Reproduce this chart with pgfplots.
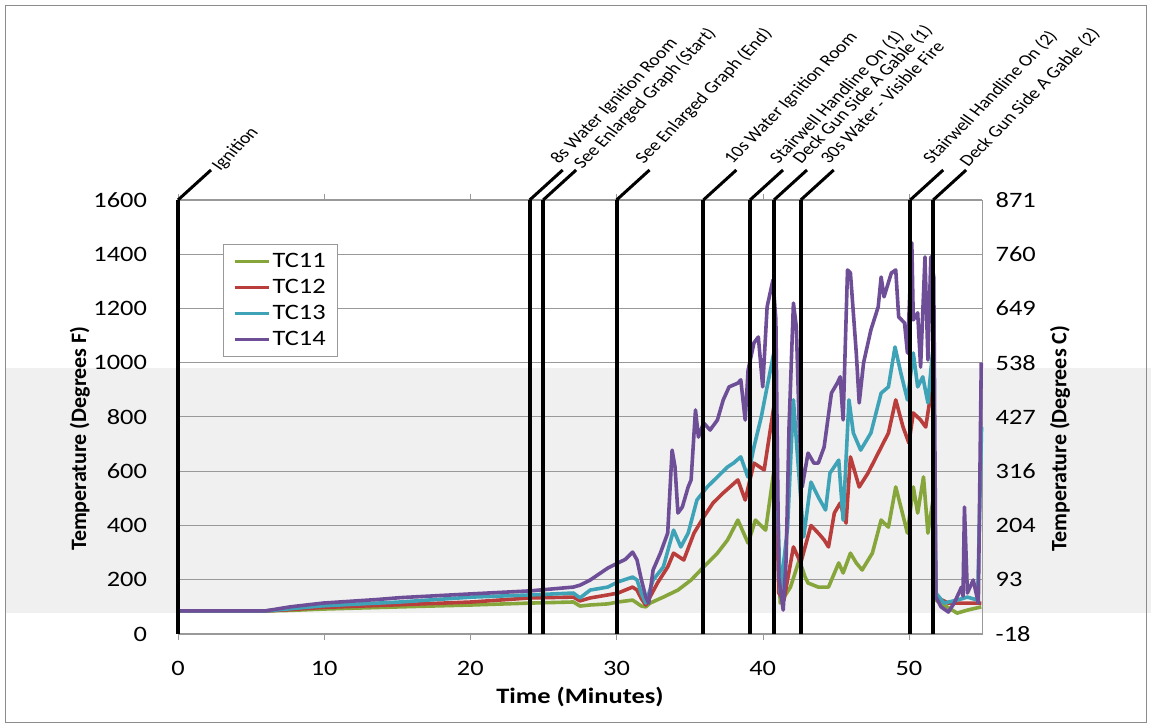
\documentclass[border=0pt]{standalone}
\usepackage{fontspec}
\setmainfont{Carlito}[FakeStretch=1.2]
\newfontfamily\plainfont{Carlito}
\usepackage{pgfplots}
\pgfplotsset{compat=1.18}
\definecolor{cA}{HTML}{86A53A}
\definecolor{cB}{HTML}{B83D3B}
\definecolor{cC}{HTML}{3FA3B8}
\definecolor{cD}{HTML}{6E4F97}
\begin{document}
\begin{tikzpicture}
\useasboundingbox (-89pt,-46.5pt) rectangle (486.5pt,317pt);
\fill[black!6] (-86.5pt,10.5pt) rectangle (486.5pt,133pt);
\draw[black!45] (-86.5pt,-44pt) rectangle (484pt,314.5pt);
\begin{axis}[
  scale only axis, width=402pt, height=217pt,
  xmin=0, xmax=55, ymin=0, ymax=1600,
  xtick={0,10,...,50}, ytick={0,200,...,1600},
  ymajorgrids, grid style={black!40, line width=0.5pt},
  axis line style={black!40},
  x tick style={black!40}, tick align=outside, major tick length=3pt,
  ytick style={draw=none},
  clip=false,
  tick label style={font=\fontsize{11}{13}\selectfont},
  /pgf/number format/assume math mode=true,
  /pgf/number format/1000 sep={},
  xticklabel style={yshift=-7pt},
  yticklabel style={xshift=-9pt},
  xlabel={Time (Minutes)},
  xlabel style={at={(axis description cs:0.5,-0.145)}, anchor=center, font=\fontsize{11}{13}\selectfont\bfseries},
  ylabel={Temperature (Degrees F)},
  ylabel style={at={(axis description cs:-0.122,0.45)}, anchor=center, font=\plainfont\fontsize{11}{13}\selectfont\bfseries},
  legend style={at={(axis description cs:0.056,0.899)}, anchor=north west, draw=black!40, fill=white,
    font=\fontsize{11}{13}\selectfont, inner xsep=5pt, inner ysep=2pt, row sep=0pt,
    nodes={text height=8.5pt, text depth=2.5pt, inner sep=1pt}},
  legend cell align=left,
  legend image post style={line width=1.5pt},
  every axis plot/.append style={line width=1.8pt, line join=round},
]
\addplot[cA] coordinates {
(0,85)(5.96,85)(7.67,87)(9.93,92)(15.2,100)(20.1,107)(24.1,114)(27.05,118)(27.5,103)(28.2,107)(29.4,111)(30.1,118)(31.1,125)(31.7,103)(32.0,100)(32.3,114)(33.2,136)(34.2,162)(35.1,199)(35.96,247)(36.9,298)(37.6,347)(38.3,420)(39.0,335)(39.5,420)(40.2,383)(40.8,616)(41.2,114)(41.9,173)(42.5,273)(42.9,210)(43.1,188)(43.8,173)(44.5,173)(45.2,262)(45.5,225)(46.0,298)(46.4,262)(46.8,236)(47.5,298)(48.1,420)(48.6,394)(49.1,542)(49.45,468)(49.9,372)(50.3,542)(50.6,446)(51.0,579)(51.3,372)(51.65,494)(51.85,125)(53.3,77)(54.0,88)(54.95,100)
};
\addlegendentry{TC11}
\addplot[cB] coordinates {
(0,85)(5.96,85)(7.67,90)(9.93,98)(15.2,108)(20.1,118)(24.1,133)(27.05,136)(27.5,122)(28.2,133)(29.4,144)(30.1,151)(31.1,173)(31.4,162)(31.7,130)(32.0,107)(32.8,188)(33.5,247)(33.9,298)(34.6,273)(35.3,372)(35.96,431)(36.6,483)(37.3,520)(38.3,568)(38.8,494)(39.4,630)(40.1,605)(40.8,852)(41.1,151)(41.45,125)(42.1,321)(42.6,262)(43.3,400)(43.8,372)(44.2,347)(44.5,321)(44.9,446)(45.3,483)(45.7,409)(46.0,653)(46.6,542)(47.2,593)(47.9,667)(48.6,741)(49.1,863)(49.6,763)(50.0,704)(50.3,815)(50.8,789)(51.15,763)(51.65,937)(51.85,136)(52.7,114)(53.8,114)(54.7,114)(54.95,114)
};
\addlegendentry{TC12}
\addplot[cC] coordinates {
(0,85)(5.96,85)(7.67,93)(9.93,104)(15.2,118)(20.1,136)(24.1,144)(27.05,151)(27.5,133)(28.2,162)(29.4,173)(30.1,192)(31.1,210)(31.4,199)(31.7,150)(32.0,114)(32.5,199)(33.2,247)(33.9,383)(34.4,321)(34.9,372)(35.5,494)(36.2,542)(36.9,579)(37.6,616)(38.0,630)(38.5,653)(38.98,579)(39.4,689)(39.9,800)(40.3,911)(40.8,1047)(41.0,520)(41.2,151)(41.7,394)(42.1,863)(42.4,641)(42.8,358)(43.3,560)(43.8,505)(44.3,457)(44.6,593)(45.2,641)(45.5,420)(45.9,863)(46.2,741)(46.7,678)(47.4,741)(48.1,888)(48.6,911)(49.05,1058)(49.45,962)(49.9,863)(50.3,1036)(50.6,911)(50.95,948)(51.3,852)(51.65,1058)(51.85,151)(52.4,114)(53.3,125)(54.0,136)(54.7,125)(54.97,763)
};
\addlegendentry{TC13}
\addplot[cD] coordinates {
(0,85)(5.96,85)(7.67,100)(9.93,114)(13.6,127)(15.2,134)(20.1,148)(24.1,159)(27.05,173)(27.5,180)(28.2,199)(29.4,243)(30.1,262)(30.6,275)(31.1,302)(31.4,273)(31.7,200)(32.0,136)(32.2,114)(32.5,236)(33.0,298)(33.5,372)(33.8,678)(34.0,616)(34.2,446)(34.5,468)(34.9,542)(35.1,568)(35.4,826)(35.6,726)(35.96,778)(36.4,752)(36.9,789)(37.3,863)(37.7,911)(38.3,925)(38.5,937)(38.8,789)(39.0,973)(39.4,1073)(39.7,1095)(40.0,911)(40.3,1206)(40.7,1305)(40.9,1158)(41.1,210)(41.4,88)(41.6,273)(41.8,763)(42.1,1220)(42.3,1132)(42.5,763)(42.7,542)(43.1,667)(43.5,630)(43.8,630)(44.2,689)(44.7,888)(45.1,925)(45.3,948)(45.5,789)(45.8,1342)(46.0,1331)(46.4,1036)(46.6,852)(46.9,1000)(47.4,1121)(47.9,1206)(48.1,1316)(48.3,1243)(48.8,1331)(49.1,1342)(49.3,1169)(49.7,1147)(49.9,1036)(50.2,1442)(50.3,1158)(50.6,1184)(50.8,984)(51.1,1390)(51.3,1010)(51.5,1390)(51.7,1316)(51.85,136)(52.2,100)(52.7,81)(53.1,114)(53.6,173)(53.7,140)(53.8,468)(54.0,151)(54.4,199)(54.75,114)(54.95,1000)
};
\addlegendentry{TC14}
\tikzset{evl/.style={line width=2pt}, evd/.style={line width=1.5pt}, evt/.style={anchor=base west, xscale=1.2, rotate=50.6, inner sep=0pt, font=\plainfont\fontsize{8.2}{10}\selectfont}}
\draw[evl] (axis cs:0,0) -- (axis cs:0,1600); \draw[evd] (axis cs:0,1600) -- ++(16.5pt,15pt);
\node[evt] at ([shift={(21pt,14pt)}]axis cs:0,1600) {Ignition};
\draw[evl] (axis cs:24.06,0) -- (axis cs:24.06,1600); \draw[evd] (axis cs:24.06,1600) -- ++(16.5pt,15pt);
\node[evt] at ([shift={(14.5pt,17.5pt)}]axis cs:24.06,1600) {8s Water Ignition Room};
\draw[evl] (axis cs:24.98,0) -- (axis cs:24.98,1600); \draw[evd] (axis cs:24.98,1600) -- ++(16.5pt,15pt);
\node[evt] at ([shift={(19.5pt,15pt)}]axis cs:24.98,1600) {See Enlarged Graph (Start)};
\draw[evl] (axis cs:30,0) -- (axis cs:30,1600); \draw[evd] (axis cs:30,1600) -- ++(16.5pt,15pt);
\node[evt] at ([shift={(13.5pt,17.5pt)}]axis cs:30,1600) {See Enlarged Graph (End)};
\draw[evl] (axis cs:35.94,0) -- (axis cs:35.94,1600); \draw[evd] (axis cs:35.94,1600) -- ++(16.5pt,15pt);
\node[evt] at ([shift={(14.5pt,17.5pt)}]axis cs:35.94,1600) {10s Water Ignition Room};
\draw[evl] (axis cs:39.13,0) -- (axis cs:39.13,1600); \draw[evd] (axis cs:39.13,1600) -- ++(16.5pt,15pt);
\node[evt] at ([shift={(14pt,17.5pt)}]axis cs:39.13,1600) {Stairwell Handline On (1)};
\draw[evl] (axis cs:40.77,0) -- (axis cs:40.77,1600); \draw[evd] (axis cs:40.77,1600) -- ++(16.5pt,15pt);
\node[evt] at ([shift={(13.5pt,17.5pt)}]axis cs:40.77,1600) {Deck Gun Side A Gable (1)};
\draw[evl] (axis cs:42.6,0) -- (axis cs:42.6,1600); \draw[evd] (axis cs:42.6,1600) -- ++(16.5pt,15pt);
\node[evt] at ([shift={(14pt,17.5pt)}]axis cs:42.6,1600) {30s Water - Visible Fire};
\draw[evl] (axis cs:50.09,0) -- (axis cs:50.09,1600); \draw[evd] (axis cs:50.09,1600) -- ++(16.5pt,15pt);
\node[evt] at ([shift={(10.5pt,17.5pt)}]axis cs:50.09,1600) {Stairwell Handline On (2)};
\draw[evl] (axis cs:51.66,0) -- (axis cs:51.66,1600); \draw[evd] (axis cs:51.66,1600) -- ++(16.5pt,15pt);
\node[evt] at ([shift={(17.5pt,16pt)}]axis cs:51.66,1600) {Deck Gun Side A Gable (2)};
\end{axis}
\begin{axis}[
  scale only axis, width=402pt, height=217pt,
  xmin=0, xmax=55, ymin=0, ymax=1600,
  axis x line=none, axis y line*=right,
  axis line style={draw=none}, tick style={draw=none},
  ytick={0,200,...,1600},
  yticklabels={-18,93,204,316,427,538,649,760,871},
  yticklabel style={xshift=3.3pt, font=\fontsize{11}{13}\selectfont},
  ylabel={Temperature (Degrees C)},
  ylabel style={at={(axis description cs:1.097,0.45)}, anchor=center, rotate=0, font=\plainfont\fontsize{11}{13}\selectfont\bfseries},
]
\end{axis}
\end{tikzpicture}
\end{document}
